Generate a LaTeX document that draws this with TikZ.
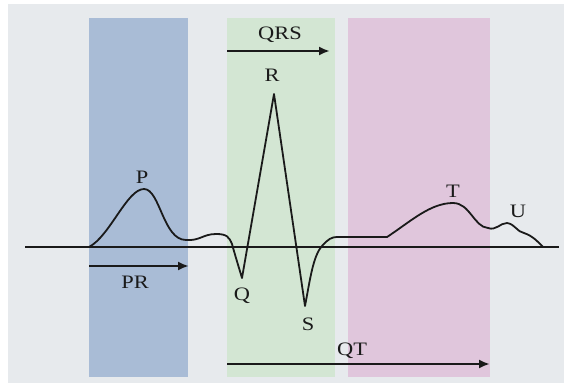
\documentclass[tikz,border=0pt]{standalone}
\usepackage{fontspec}
\setmainfont{Liberation Serif}[FakeStretch=1.18]
\usetikzlibrary{arrows.meta}
\definecolor{bggray}{HTML}{E7EAED}
\definecolor{bandblue}{HTML}{A9BCD6}
\definecolor{bandgreen}{HTML}{D3E6D3}
\definecolor{bandpink}{HTML}{E0C6DC}
\definecolor{ink}{HTML}{1A1A1A}
\tikzset{
  lbl/.style={anchor=base, inner sep=0pt, text=ink, font=\fontsize{19}{22}\selectfont},
  ecg/.style={draw=ink, line width=1.8pt, line join=round},
  span/.style={draw=ink, line width=2.3pt, -{Latex[length=11pt,width=9pt]}},
  band/.style={draw=none}
}
\begin{document}
\begin{tikzpicture}[x=1pt,y=-1pt]
\useasboundingbox (0,0) rectangle (564,385);
\fill[white] (0,0) rectangle (564,385);
\fill[bggray] (8,4) rectangle (564,383);
% bands
\fill[band, bandblue] (89,18) rectangle (188,377);
\fill[band, bandgreen] (227,18) rectangle (335,377);
\fill[band, bandpink] (348,18) rectangle (490,377);
% baseline
\coordinate (b0) at (25,247);
\coordinate (b1) at (559,247);
\draw[ecg] (b0) -- (b1);
% ECG trace
\coordinate (pon) at (89,247);
\coordinate (ppk) at (144,189);
\coordinate (pend) at (186,240);
\coordinate (bump) at (216,234);
\coordinate (qq) at (242,278);
\coordinate (rr) at (274,94);
\coordinate (ss) at (305,306);
\coordinate (st) at (337,237);
\coordinate (tst) at (387,237);
\coordinate (tpk) at (453,203);
\coordinate (tend) at (488,228);
\coordinate (upk) at (507,223);
\coordinate (uend) at (543,247);
\draw[ecg] (pon) .. controls (110,236) and (127,189) .. (ppk)
  .. controls (160,189) and (163,240) .. (pend)
  .. controls (200,241) and (203,234) .. (bump)
  .. controls (227,234) and (229,237) .. (232,244)
  .. controls (235,255) and (239,268) .. (qq)
  -- (rr) -- (ss)
  .. controls (310,280) and (313,256) .. (322,246)
  .. controls (328,239) and (332,237) .. (st)
  -- (tst)
  .. controls (410,222) and (430,203) .. (tpk)
  .. controls (470,203) and (474,227) .. (tend)
  .. controls (496,231) and (500,223) .. (upk)
  .. controls (515,224) and (517,232) .. (524,233)
  .. controls (533,236) and (538,242) .. (uend);
% labels
\node[lbl] (P) at (142,183) {P};
\node[lbl] (PR) at (135,288) {PR};
\node[lbl] (QRS) at (280,40) {QRS};
\node[lbl] (R) at (272,82) {R};
\node[lbl] (Q) at (242,300) {Q};
\node[lbl] (S) at (308,330) {S};
\node[lbl] (T) at (453,197) {T};
\node[lbl] (U) at (518,217) {U};
\node[lbl] (QT) at (352,355) {QT};
% interval arrows
\coordinate (pra) at (89,266);
\coordinate (prb) at (189,266);
\coordinate (qrsa) at (227,51);
\coordinate (qrsb) at (330,51);
\coordinate (qta) at (227,364);
\coordinate (qtb) at (490,364);
\draw[span] (pra) -- (prb);
\draw[span] (qrsa) -- (qrsb);
\draw[span] (qta) -- (qtb);
\end{tikzpicture}
\end{document}
